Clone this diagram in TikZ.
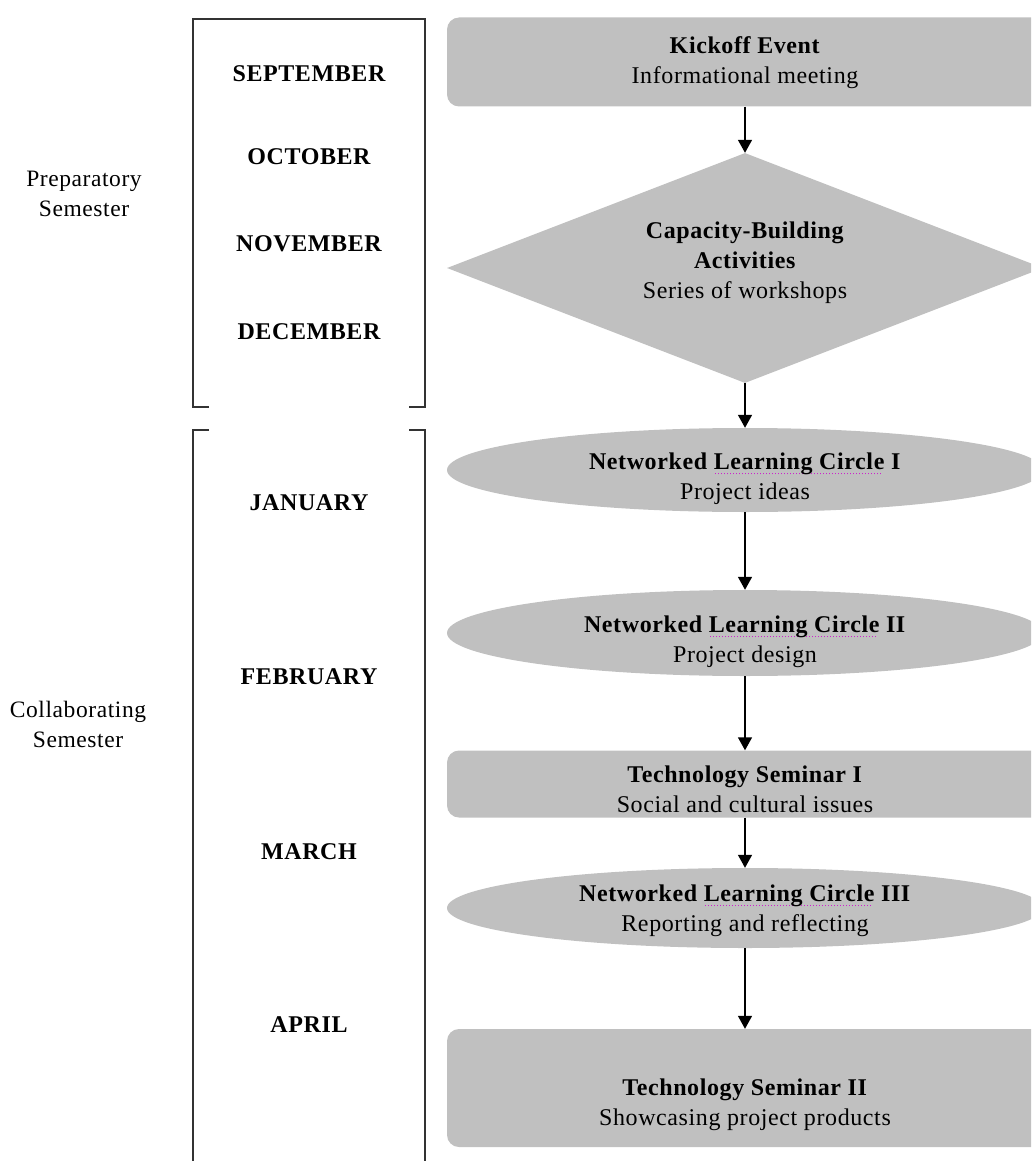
\documentclass[tikz,border=0pt]{standalone}
\usepackage{fontspec}
\setmainfont{Liberation Serif}[LetterSpace=2.5]
\usetikzlibrary{shapes.geometric,arrows.meta}
\definecolor{boxgray}{HTML}{C0C0C0}
\definecolor{tagcol}{HTML}{CC22CC}
\newsavebox{\tagbox}
\newcommand{\smarttag}[1]{\sbox{\tagbox}{#1}\rlap{\raisebox{-4.5pt}[0pt][0pt]{\color{tagcol}\hbox to \wd\tagbox{\leaders\hbox to 3pt{\hss\rule{1.5pt}{1.5pt}\hss}\hfill}}}\usebox{\tagbox}}
\tikzset{
  shapebase/.style={fill=boxgray, draw=none, inner sep=0pt, minimum width=596},
  roundbox/.style={shapebase, rectangle, rounded corners=12},
  ovalbox/.style={shapebase, ellipse},
  diabox/.style={shapebase, diamond, aspect=2.6},
  inner/.style={align=center, inner sep=0pt, font=\fontsize{24}{30}\selectfont},
  month/.style={font=\fontsize{24}{28}\selectfont\bfseries},
  semester/.style={font=\fontsize{23.5}{30}\selectfont, align=center},
  flow/.style={line width=1.5pt, -{Triangle[width=14pt,length=13pt]}},
  bracket/.style={line width=2pt, draw=black!80}
}
\begin{document}
\begin{tikzpicture}[x=1pt,y=-1pt]
\useasboundingbox (0,0) rectangle (1031,1161);
\clip (0,0) rectangle (1031,1161);

% brackets
\draw[bracket] (209,407) -- (193,407) -- (193,19) -- (425,19) -- (425,407) -- (409,407);
\draw[bracket] (209,430) -- (193,430) -- (193,1175);
\draw[bracket] (409,430) -- (425,430) -- (425,1175);

% months
\node[month] (sep) at (309,74) {SEPTEMBER};
\node[month] (oct) at (309,157) {OCTOBER};
\node[month] (nov) at (309,244) {NOVEMBER};
\node[month] (dec) at (309,332) {DECEMBER};
\node[month] (jan) at (309,503) {JANUARY};
\node[month] (feb) at (309,677) {FEBRUARY};
\node[month] (mar) at (309,852) {MARCH};
\node[month] (apr) at (309,1025) {APRIL};

% semesters
\node[semester] (prep) at (84,194) {Preparatory\\Semester};
\node[semester] (coll) at (78,724) {Collaborating\\Semester};

% flow shapes
\node[roundbox, minimum height=89] (kick) at (745,62) {};
\node[diabox, minimum height=230] (cap) at (745,268) {};
\node[ovalbox, minimum height=84] (nlc1) at (745,470) {};
\node[ovalbox, minimum height=86] (nlc2) at (745,633) {};
\node[roundbox, minimum height=67] (ts1) at (745,784) {};
\node[ovalbox, minimum height=80] (nlc3) at (745,908) {};
\node[roundbox, minimum height=118] (ts2) at (745,1088) {};

% texts in the shapes
\node[inner] (kick-t) at (745,63) {\textbf{Kickoff Event}\\Informational meeting};
\node[inner] (cap-t) at (745,263) {\textbf{Capacity-Building}\\\textbf{Activities}\\Series of workshops};
\node[inner] (nlc1-t) at (745,479) {\textbf{Networked \smarttag{Learning Circle} I}\\Project ideas};
\node[inner] (nlc2-t) at (745,642) {\textbf{Networked \smarttag{Learning Circle} II}\\Project design};
\node[inner] (ts1-t) at (745,789) {\textbf{Technology Seminar I}\\Social and cultural issues};
\node[inner] (nlc3-t) at (745,911) {\textbf{Networked \smarttag{Learning Circle} III}\\Reporting and reflecting};
\node[inner] (ts2-t) at (745,1105) {\textbf{Technology Seminar II}\\Showcasing project products};

% connectors
\draw[flow] (kick.south) -- (cap.north);
\draw[flow] (cap.south) -- (nlc1.north);
\draw[flow] (nlc1.south) -- (nlc2.north);
\draw[flow] (nlc2.south) -- (ts1.north);
\draw[flow] (ts1.south) -- (nlc3.north);
\draw[flow] (nlc3.south) -- (ts2.north);
\end{tikzpicture}
\end{document}
